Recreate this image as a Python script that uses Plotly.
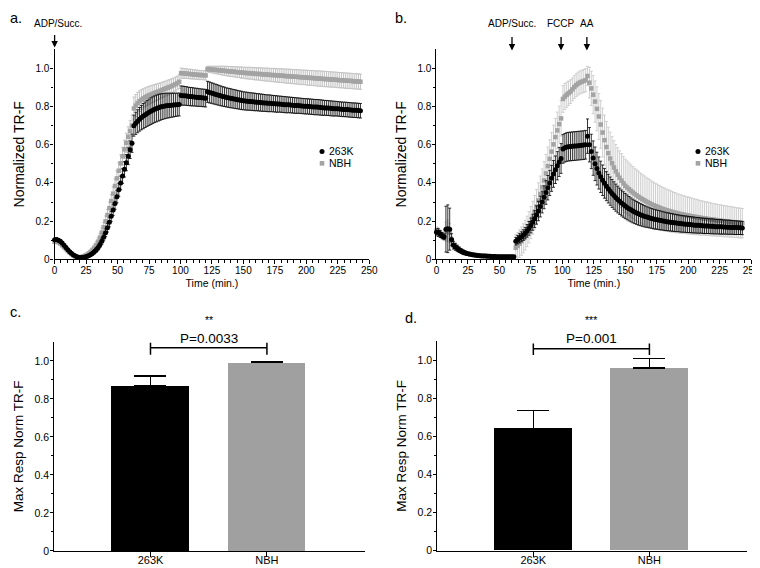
import plotly.graph_objects as go

# ---------------- data ----------------
TIME_MIN = [
    0, 1.5, 3, 4.5, 6, 7.5, 9, 10.5, 12, 13.5,
    15, 16.5, 18, 19.5, 21, 22.5, 24, 25.5, 27, 28.5,
    30, 31.5, 33, 34.5, 36, 37.5, 39, 40.5, 42, 43.5,
    45, 46.5, 48, 49.5, 51, 52.5, 54, 55.5, 57, 58.5,
    60, 61.5, 63, 64.5, 66, 67.5, 69, 70.5, 72, 73.5,
    75, 76.5, 78, 79.5, 81, 82.5, 84, 85.5, 87, 88.5,
    90, 91.5, 93, 94.5, 96, 97.5, 99, 100.5, 102, 103.5,
    105, 106.5, 108, 109.5, 111, 112.5, 114, 115.5, 117, 118.5,
    120, 121.5, 123, 124.5, 126, 127.5, 129, 130.5, 132, 133.5,
    135, 136.5, 138, 139.5, 141, 142.5, 144, 145.5, 147, 148.5,
    150, 151.5, 153, 154.5, 156, 157.5, 159, 160.5, 162, 163.5,
    165, 166.5, 168, 169.5, 171, 172.5, 174, 175.5, 177, 178.5,
    180, 181.5, 183, 184.5, 186, 187.5, 189, 190.5, 192, 193.5,
    195, 196.5, 198, 199.5, 201, 202.5, 204, 205.5, 207, 208.5,
    210, 211.5, 213, 214.5, 216, 217.5, 219, 220.5, 222, 223.5,
    225, 226.5, 228, 229.5, 231, 232.5, 234, 235.5, 237, 238.5,
    240, 241.5, 243,
]

# panel a
A_263K_MEAN = [
    0.102, 0.104, 0.100, 0.094, 0.085, 0.074, 0.062, 0.050, 0.040, 0.031,
    0.023, 0.017, 0.012, 0.010, 0.009, 0.010, 0.012, 0.015, 0.019, 0.024,
    0.031, 0.039, 0.049, 0.061, 0.076, 0.094, 0.115, 0.139, 0.165, 0.194,
    0.225, 0.258, 0.292, 0.328, 0.364, 0.400, 0.436, 0.471, 0.506, 0.540, 0.574, 0.608,
    0.700, 0.712, 0.723, 0.733, 0.742, 0.750, 0.757, 0.764, 0.770, 0.776,
    0.781, 0.786, 0.790, 0.794, 0.797, 0.800, 0.802, 0.804, 0.805, 0.806,
    0.807, 0.808, 0.809, 0.810, 0.811,
    0.858, 0.857, 0.856, 0.855, 0.853, 0.852, 0.851, 0.850, 0.849, 0.848, 0.847, 0.846, 0.845, 0.844,
    0.877, 0.874, 0.871, 0.868, 0.865, 0.862, 0.859, 0.856, 0.853, 0.851,
    0.848, 0.846, 0.844, 0.842, 0.840, 0.838, 0.836, 0.834, 0.832, 0.830,
    0.829, 0.828, 0.827, 0.826, 0.825, 0.824, 0.823, 0.822, 0.821, 0.820,
    0.819, 0.818, 0.817, 0.817, 0.816, 0.815, 0.814, 0.813, 0.813, 0.812,
    0.811, 0.810, 0.809, 0.809, 0.808, 0.807, 0.806, 0.805, 0.805, 0.804,
    0.803, 0.802, 0.801, 0.801, 0.800, 0.799, 0.798, 0.797, 0.797, 0.796,
    0.795, 0.794, 0.793, 0.793, 0.792, 0.791, 0.790, 0.789, 0.789, 0.788,
    0.787, 0.786, 0.785, 0.785, 0.784, 0.783, 0.782, 0.781, 0.781, 0.780, 0.779, 0.778,
]
A_263K_ERR = [
    0.008, 0.008, 0.008, 0.008, 0.007, 0.007, 0.007, 0.006, 0.006, 0.006,
    0.006, 0.005, 0.005, 0.005, 0.005, 0.006, 0.006, 0.007, 0.008, 0.009,
    0.010, 0.011, 0.012, 0.013, 0.014, 0.016, 0.018, 0.020, 0.022, 0.024,
    0.026, 0.028, 0.030, 0.032, 0.034, 0.036, 0.038, 0.040, 0.042, 0.044, 0.046, 0.048,
    0.055, 0.058, 0.060, 0.062, 0.064, 0.066, 0.067, 0.068, 0.069, 0.070,
    0.070, 0.070, 0.070, 0.070, 0.069, 0.068, 0.067, 0.066, 0.065, 0.064,
    0.063, 0.062, 0.061, 0.060, 0.060,
    0.050, 0.050, 0.049, 0.049, 0.048, 0.048, 0.048, 0.047, 0.047, 0.047, 0.046, 0.046, 0.046, 0.046,
    0.055, 0.055, 0.054, 0.054, 0.053, 0.053, 0.052, 0.052, 0.051, 0.051,
    0.050, 0.050, 0.050, 0.049, 0.049, 0.049, 0.048, 0.048, 0.048, 0.047,
    0.047, 0.047, 0.046, 0.046, 0.046, 0.046, 0.045, 0.045, 0.045, 0.045,
    0.044, 0.044, 0.044, 0.044, 0.043, 0.043, 0.043, 0.043, 0.042, 0.042,
    0.042, 0.042, 0.042, 0.041, 0.041, 0.041, 0.041, 0.041, 0.040, 0.040,
    0.040, 0.040, 0.040, 0.040, 0.040, 0.040, 0.040, 0.040, 0.040, 0.040,
    0.040, 0.040, 0.039, 0.039, 0.039, 0.039, 0.039, 0.039, 0.038, 0.038,
    0.038, 0.038, 0.038, 0.038, 0.038, 0.038, 0.038, 0.038, 0.038, 0.038, 0.038, 0.038,
]
A_NBH_MEAN = [
    0.092, 0.095, 0.090, 0.083, 0.074, 0.064, 0.054, 0.044, 0.035, 0.027,
    0.020, 0.015, 0.012, 0.011, 0.012, 0.014, 0.018, 0.023, 0.030, 0.038,
    0.048, 0.060, 0.074, 0.092, 0.114, 0.140, 0.168, 0.199, 0.232, 0.268,
    0.305, 0.344, 0.384, 0.424, 0.464, 0.503, 0.540, 0.576, 0.610, 0.642, 0.672, 0.700,
    0.790, 0.805, 0.818, 0.828, 0.836, 0.843, 0.849, 0.854, 0.859, 0.863,
    0.867, 0.871, 0.875, 0.879, 0.883, 0.887, 0.891, 0.895, 0.899, 0.903,
    0.907, 0.912, 0.917, 0.923, 0.930,
    0.975, 0.974, 0.973, 0.972, 0.971, 0.970, 0.969, 0.968, 0.967, 0.966, 0.965, 0.965, 0.964, 0.963,
    0.996, 0.995, 0.994, 0.993, 0.992, 0.991, 0.990, 0.989, 0.988, 0.987,
    0.986, 0.985, 0.984, 0.983, 0.982, 0.981, 0.980, 0.979, 0.978, 0.977,
    0.976, 0.975, 0.975, 0.974, 0.973, 0.972, 0.971, 0.971, 0.970, 0.969,
    0.968, 0.968, 0.967, 0.966, 0.965, 0.965, 0.964, 0.963, 0.962, 0.962,
    0.961, 0.960, 0.959, 0.959, 0.958, 0.957, 0.956, 0.956, 0.955, 0.954,
    0.953, 0.953, 0.952, 0.951, 0.950, 0.950, 0.949, 0.948, 0.947, 0.947,
    0.946, 0.945, 0.944, 0.944, 0.943, 0.942, 0.941, 0.941, 0.940, 0.939,
    0.938, 0.938, 0.937, 0.936, 0.935, 0.935, 0.934, 0.933, 0.932, 0.932, 0.931, 0.930,
]
A_NBH_ERR = [
    0.010, 0.010, 0.010, 0.009, 0.009, 0.009, 0.008, 0.008, 0.008, 0.008,
    0.007, 0.007, 0.007, 0.007, 0.008, 0.008, 0.009, 0.010, 0.011, 0.012,
    0.014, 0.016, 0.018, 0.020, 0.022, 0.024, 0.026, 0.028, 0.030, 0.032,
    0.034, 0.036, 0.038, 0.040, 0.042, 0.044, 0.046, 0.048, 0.050, 0.052, 0.054, 0.056,
    0.060, 0.058, 0.056, 0.054, 0.052, 0.050, 0.049, 0.048, 0.047, 0.046,
    0.045, 0.044, 0.043, 0.042, 0.041, 0.040, 0.040, 0.039, 0.039, 0.038,
    0.038, 0.037, 0.037, 0.036, 0.036,
    0.026, 0.026, 0.025, 0.025, 0.025, 0.025, 0.025, 0.024, 0.024, 0.024, 0.024, 0.024, 0.024, 0.024,
    0.015, 0.016, 0.017, 0.018, 0.019, 0.020, 0.021, 0.022, 0.023, 0.024,
    0.025, 0.025, 0.026, 0.026, 0.027, 0.027, 0.028, 0.028, 0.029, 0.029,
    0.030, 0.030, 0.031, 0.031, 0.031, 0.032, 0.032, 0.032, 0.033, 0.033,
    0.033, 0.034, 0.034, 0.034, 0.035, 0.035, 0.035, 0.035, 0.036, 0.036,
    0.036, 0.036, 0.037, 0.037, 0.037, 0.037, 0.037, 0.038, 0.038, 0.038,
    0.038, 0.038, 0.038, 0.039, 0.039, 0.039, 0.039, 0.039, 0.039, 0.040,
    0.040, 0.040, 0.040, 0.040, 0.040, 0.040, 0.040, 0.040, 0.040, 0.040,
    0.040, 0.040, 0.040, 0.040, 0.040, 0.040, 0.040, 0.040, 0.040, 0.040, 0.040, 0.040,
]

# panel b
B_263K_MEAN = [
    0.142, 0.140, 0.132, 0.124, 0.118, 0.158, 0.160, 0.158, 0.104, 0.074,
    0.066, 0.058, 0.050, 0.044, 0.038, 0.034, 0.031, 0.028, 0.026, 0.024,
    0.022, 0.021, 0.020, 0.019, 0.018, 0.017, 0.017, 0.016, 0.016, 0.015,
    0.015, 0.015, 0.014, 0.014, 0.014, 0.014, 0.013, 0.013, 0.013, 0.013, 0.013, 0.013,
    0.095, 0.103, 0.110, 0.118, 0.127, 0.137, 0.149, 0.162, 0.177, 0.194,
    0.212, 0.232, 0.253, 0.276, 0.300, 0.325, 0.350, 0.375, 0.400, 0.424,
    0.447, 0.469, 0.490, 0.510, 0.528,
    0.578, 0.584, 0.588, 0.590, 0.591, 0.592, 0.593, 0.594, 0.595, 0.596, 0.597, 0.598, 0.600, 0.645,
    0.600, 0.565, 0.530, 0.500, 0.475, 0.452, 0.432, 0.414, 0.398, 0.383,
    0.370, 0.357, 0.345, 0.334, 0.323, 0.313, 0.304, 0.295, 0.287, 0.279,
    0.272, 0.265, 0.259, 0.253, 0.248, 0.243, 0.238, 0.234, 0.230, 0.226,
    0.223, 0.220, 0.217, 0.214, 0.211, 0.209, 0.207, 0.205, 0.203, 0.201,
    0.199, 0.197, 0.196, 0.194, 0.193, 0.191, 0.190, 0.189, 0.187, 0.186,
    0.185, 0.184, 0.183, 0.182, 0.181, 0.180, 0.179, 0.178, 0.178, 0.177,
    0.176, 0.175, 0.175, 0.174, 0.173, 0.173, 0.172, 0.171, 0.171, 0.170,
    0.170, 0.169, 0.169, 0.168, 0.168, 0.167, 0.167, 0.166, 0.166, 0.165, 0.165, 0.164,
]
B_263K_ERR = [
    0.020, 0.020, 0.018, 0.016, 0.015, 0.120, 0.125, 0.110, 0.030, 0.020,
    0.018, 0.016, 0.014, 0.012, 0.011, 0.010, 0.009, 0.008, 0.007, 0.006,
    0.006, 0.005, 0.005, 0.005, 0.005, 0.004, 0.004, 0.004, 0.004, 0.004,
    0.004, 0.004, 0.004, 0.004, 0.004, 0.004, 0.004, 0.004, 0.004, 0.004, 0.004, 0.004,
    0.020, 0.022, 0.024, 0.026, 0.028, 0.030, 0.033, 0.036, 0.039, 0.042,
    0.045, 0.048, 0.051, 0.054, 0.057, 0.060, 0.062, 0.064, 0.066, 0.068,
    0.070, 0.072, 0.074, 0.076, 0.078,
    0.075, 0.075, 0.075, 0.075, 0.075, 0.075, 0.075, 0.075, 0.075, 0.075, 0.075, 0.075, 0.075, 0.090,
    0.090, 0.090, 0.090, 0.088, 0.086, 0.084, 0.082, 0.080, 0.078, 0.076,
    0.075, 0.074, 0.073, 0.072, 0.071, 0.070, 0.069, 0.068, 0.067, 0.066,
    0.065, 0.064, 0.063, 0.062, 0.061, 0.060, 0.059, 0.058, 0.057, 0.056,
    0.055, 0.054, 0.053, 0.052, 0.052, 0.051, 0.050, 0.050, 0.049, 0.048,
    0.048, 0.047, 0.047, 0.046, 0.046, 0.045, 0.045, 0.044, 0.044, 0.044,
    0.043, 0.043, 0.043, 0.042, 0.042, 0.042, 0.041, 0.041, 0.041, 0.040,
    0.040, 0.040, 0.040, 0.039, 0.039, 0.039, 0.039, 0.038, 0.038, 0.038,
    0.038, 0.037, 0.037, 0.037, 0.037, 0.036, 0.036, 0.036, 0.036, 0.035, 0.035, 0.035,
]
B_NBH_MEAN = [
    0.150, 0.145, 0.135, 0.125, 0.115, 0.145, 0.150, 0.140, 0.095, 0.075,
    0.065, 0.057, 0.050, 0.044, 0.039, 0.035, 0.032, 0.029, 0.027, 0.025,
    0.023, 0.022, 0.021, 0.020, 0.019, 0.018, 0.018, 0.017, 0.017, 0.016,
    0.016, 0.015, 0.015, 0.015, 0.014, 0.014, 0.014, 0.014, 0.013, 0.013, 0.013, 0.013,
    0.060, 0.070, 0.082, 0.095, 0.110, 0.127, 0.146, 0.168, 0.192, 0.218,
    0.246, 0.276, 0.308, 0.342, 0.377, 0.413, 0.450, 0.488, 0.526, 0.564,
    0.602, 0.640, 0.675, 0.708, 0.738,
    0.840, 0.852, 0.862, 0.870, 0.878, 0.890, 0.902, 0.912, 0.920, 0.926, 0.930, 0.934, 0.938, 0.960,
    0.925, 0.895, 0.862, 0.826, 0.788, 0.748, 0.706, 0.664, 0.624, 0.588,
    0.556, 0.528, 0.503, 0.481, 0.461, 0.443, 0.427, 0.412, 0.398, 0.385,
    0.376, 0.367, 0.358, 0.350, 0.342, 0.335, 0.328, 0.321, 0.315, 0.309,
    0.303, 0.298, 0.293, 0.288, 0.283, 0.279, 0.275, 0.271, 0.267, 0.263,
    0.260, 0.257, 0.254, 0.251, 0.248, 0.245, 0.243, 0.240, 0.238, 0.236,
    0.234, 0.232, 0.230, 0.228, 0.226, 0.224, 0.222, 0.221, 0.219, 0.217,
    0.216, 0.214, 0.213, 0.211, 0.210, 0.208, 0.207, 0.206, 0.204, 0.203,
    0.202, 0.200, 0.199, 0.198, 0.197, 0.196, 0.195, 0.193, 0.192, 0.191, 0.190, 0.189,
]
B_NBH_ERR = [
    0.020, 0.020, 0.018, 0.017, 0.016, 0.050, 0.055, 0.050, 0.025, 0.020,
    0.018, 0.016, 0.014, 0.013, 0.012, 0.011, 0.010, 0.009, 0.008, 0.008,
    0.007, 0.007, 0.006, 0.006, 0.006, 0.005, 0.005, 0.005, 0.005, 0.005,
    0.005, 0.005, 0.005, 0.005, 0.005, 0.005, 0.005, 0.005, 0.005, 0.005, 0.005, 0.005,
    0.070, 0.070, 0.072, 0.074, 0.076, 0.078, 0.080, 0.082, 0.084, 0.086,
    0.088, 0.090, 0.092, 0.094, 0.096, 0.098, 0.100, 0.100, 0.100, 0.100,
    0.100, 0.098, 0.096, 0.094, 0.092,
    0.070, 0.068, 0.066, 0.064, 0.062, 0.060, 0.060, 0.060, 0.060, 0.060, 0.060, 0.060, 0.060, 0.050,
    0.080, 0.090, 0.100, 0.108, 0.115, 0.120, 0.125, 0.128, 0.131, 0.134,
    0.136, 0.138, 0.139, 0.140, 0.141, 0.141, 0.141, 0.141, 0.140, 0.140,
    0.139, 0.138, 0.137, 0.136, 0.135, 0.134, 0.133, 0.131, 0.130, 0.128,
    0.127, 0.125, 0.124, 0.122, 0.121, 0.119, 0.118, 0.116, 0.115, 0.113,
    0.112, 0.110, 0.109, 0.108, 0.106, 0.105, 0.104, 0.102, 0.101, 0.100,
    0.099, 0.098, 0.097, 0.096, 0.095, 0.094, 0.093, 0.092, 0.091, 0.090,
    0.089, 0.088, 0.088, 0.087, 0.086, 0.085, 0.085, 0.084, 0.083, 0.083,
    0.082, 0.082, 0.081, 0.081, 0.080, 0.080, 0.079, 0.079, 0.078, 0.078, 0.078, 0.077,
]

for _s in (A_263K_MEAN, A_263K_ERR, A_NBH_MEAN, A_NBH_ERR,
           B_263K_MEAN, B_263K_ERR, B_NBH_MEAN, B_NBH_ERR):
    assert len(_s) == len(TIME_MIN), len(_s)

# panels c / d (bar charts)
GROUPS = ["263K", "NBH"]
C_MEAN = [0.870, 0.992]
C_ERR = [0.052, 0.005]
D_MEAN = [0.641, 0.958]
D_ERR = [0.095, 0.052]
C_P_TEXT, C_STARS = "P=0.0033", "**"
D_P_TEXT, D_STARS = "P=0.001", "***"

# event markers (arrows)
EVENTS_A = [0]
EVENT_LABELS_A = ["ADP/Succ."]
EVENTS_B = [60, 99, 119.5]
EVENT_LABELS_B = ["ADP/Succ.", "FCCP", "AA"]

SERIES_NAMES = ["263K", "NBH"]

X_TICKS = [0, 25, 50, 75, 100, 125, 150, 175, 200, 225, 250]
Y_TICKS = [0, 0.2, 0.4, 0.6, 0.8, 1.0]
Y_TICK_TEXT = ["0", "0.2", "0.4", "0.6", "0.8", "1.0"]
Y_MINOR = [0.1, 0.3, 0.5, 0.7, 0.9]

# ---------------- style ----------------
FONT = "Liberation Sans, Arial, sans-serif"
BLACK = "#000000"
GRAY_MK = "#a3a3a3"
GRAY_ERR_A = "#c4c4c4"
GRAY_ERR_B = "#cfcfcf"
GRAY_BAR = "#a0a0a0"
W, H = 760, 568


def px_x(p):
    return p / W


def px_y(p):
    return 1 - p / H


fig = go.Figure()

# time courses
for (mean_n, err_n, mean_k, err_k, xa, ya, gerr) in [
    (A_NBH_MEAN, A_NBH_ERR, A_263K_MEAN, A_263K_ERR, "x", "y", GRAY_ERR_A),
    (B_NBH_MEAN, B_NBH_ERR, B_263K_MEAN, B_263K_ERR, "x2", "y2", GRAY_ERR_B),
]:
    fig.add_trace(go.Scatter(
        x=TIME_MIN, y=mean_n, mode="markers", name=SERIES_NAMES[1], showlegend=False,
        xaxis=xa, yaxis=ya, cliponaxis=False,
        marker=dict(symbol="square", size=4.5, color=GRAY_MK, line=dict(width=0)),
        error_y=dict(type="data", array=err_n, visible=True, color=gerr,
                     thickness=1, width=1.5),
    ))
    fig.add_trace(go.Scatter(
        x=TIME_MIN, y=mean_k, mode="markers", name=SERIES_NAMES[0], showlegend=False,
        xaxis=xa, yaxis=ya, cliponaxis=False,
        marker=dict(symbol="circle", size=5, color=BLACK, line=dict(width=0)),
        error_y=dict(type="data", array=err_k, visible=True, color=BLACK,
                     thickness=0.8, width=1.5),
    ))

# bar charts
for (means, errs, xa, ya) in [(C_MEAN, C_ERR, "x3", "y3"), (D_MEAN, D_ERR, "x4", "y4")]:
    fig.add_trace(go.Bar(
        x=GROUPS, y=means, xaxis=xa, yaxis=ya, showlegend=False,
        width=0.667, marker=dict(color=[BLACK, GRAY_BAR], line=dict(width=0)),
        error_y=dict(type="data", array=errs, arrayminus=[0, 0], symmetric=False,
                     visible=True, color=BLACK, thickness=1.6, width=16),
    ))

tickfont = dict(family=FONT, size=10, color=BLACK)
axis_common = dict(showline=True, linecolor=BLACK, linewidth=1.3, ticks="outside",
                   ticklen=4, tickwidth=1.2, tickcolor=BLACK, showgrid=False,
                   zeroline=False, tickfont=tickfont)

ts_x = dict(axis_common, range=[0, 250], tickmode="array", tickvals=X_TICKS,
            ticklabelstandoff=-2,
            minor=dict(ticks="outside", ticklen=2.5, tickwidth=1, tickcolor=BLACK,
                       tick0=0, dtick=5, showgrid=False),
            title=dict(text="Time (min.)", font=dict(family=FONT, size=10.5, color=BLACK),
                       standoff=4))
ts_y = dict(axis_common, range=[0, 1.1], tickmode="array", tickvals=Y_TICKS,
            ticktext=Y_TICK_TEXT, ticklen=3, ticklabelstandoff=-1,
            minor=dict(ticks="outside", ticklen=2, tickwidth=1, tickcolor=BLACK,
                       tickmode="array", tickvals=Y_MINOR, showgrid=False),
            title=dict(text="Normalized TR-F", font=dict(family=FONT, size=14, color=BLACK),
                       standoff=7))
bar_x = dict(axis_common, range=[-0.826, 1.845], type="category", ticklen=5,
             ticklabelstandoff=-6,
             tickfont=dict(family=FONT, size=11, color=BLACK))
bar_y = dict(axis_common, range=[0, 1.1], tickmode="array", tickvals=Y_TICKS,
             ticktext=Y_TICK_TEXT, ticklen=3, ticklabelstandoff=-1,
             tickfont=dict(family=FONT, size=10.5, color=BLACK),
             minor=dict(ticks="outside", ticklen=2, tickwidth=1, tickcolor=BLACK,
                        tickmode="array", tickvals=Y_MINOR, showgrid=False),
             title=dict(text="Max Resp Norm TR-F",
                        font=dict(family=FONT, size=13.5, color=BLACK), standoff=7))

fig.update_layout(
    width=W, height=H, paper_bgcolor="white", plot_bgcolor="white",
    margin=dict(l=0, r=0, t=0, b=0), font=dict(family=FONT, color=BLACK),
    showlegend=False,
    xaxis=dict(ts_x, domain=[px_x(44.3), px_x(364)], anchor="y"),
    yaxis=dict(ts_y, domain=[px_y(254), px_y(41.7)], anchor="x"),
    xaxis2=dict(ts_x, domain=[px_x(432.3), px_x(752)], anchor="y2"),
    yaxis2=dict(ts_y, domain=[px_y(254), px_y(41.7)], anchor="x2"),
    xaxis3=dict(bar_x, domain=[px_x(44), px_x(360)], anchor="y3"),
    yaxis3=dict(bar_y, domain=[px_y(548.7), px_y(337.5)], anchor="x3"),
    xaxis4=dict(bar_x, domain=[px_x(433.3), px_x(748.3)], anchor="y4"),
    yaxis4=dict(bar_y, domain=[px_y(548.3), px_y(336.8)], anchor="x4"),
    bargap=0,
)

annotations = []
shapes = []

# panel letters
for txt, xp, yp in [("a.", 5, 10), ("b.", 396, 10), ("c.", 5, 307), ("d.", 406, 313)]:
    annotations.append(dict(text=txt, x=px_x(xp), y=px_y(yp), xref="paper", yref="paper",
                            showarrow=False, xanchor="center", yanchor="middle",
                            font=dict(family=FONT, size=14.5, color=BLACK)))

# legends (marker key + label) for panels a and b
for mk_x in (316, 698):
    for name, yp, sym, col, half in [(SERIES_NAMES[0], 145, "circle", BLACK, 2.5),
                                     (SERIES_NAMES[1], 157, "rect", GRAY_MK, 2.3)]:
        shapes.append(dict(type=sym, xref="paper", yref="paper",
                           xsizemode="pixel", ysizemode="pixel",
                           xanchor=px_x(mk_x), yanchor=px_y(yp),
                           x0=-half, x1=half, y0=-half, y1=half,
                           fillcolor=col, line=dict(width=0)))
        annotations.append(dict(text=name, x=px_x(mk_x + 5), y=px_y(yp), xref="paper",
                                yref="paper", showarrow=False, xanchor="left",
                                yanchor="middle",
                                font=dict(family=FONT, size=10.5, color=BLACK)))

# event arrows and labels
for t, lab in zip(EVENTS_A, EVENT_LABELS_A):
    annotations.append(dict(text="", x=t, xref="x", y=px_y(40), yref="paper",
                            showarrow=True, ax=0, ay=-14, arrowhead=2, arrowsize=1,
                            arrowwidth=1.3, arrowcolor=BLACK, standoff=0))
    annotations.append(dict(text=lab, x=px_x(48), y=px_y(16), xref="paper", yref="paper",
                            showarrow=False, xanchor="center", yanchor="middle",
                            font=dict(family=FONT, size=10, color=BLACK)))
for t, lab in zip(EVENTS_B, EVENT_LABELS_B):
    annotations.append(dict(text="", x=t, xref="x2", y=px_y(43), yref="paper",
                            showarrow=True, ax=0, ay=-15, arrowhead=2, arrowsize=1,
                            arrowwidth=1.3, arrowcolor=BLACK, standoff=0))
    annotations.append(dict(text=lab, x=t, xref="x2", y=px_y(16), yref="paper",
                            showarrow=False, xanchor="center", yanchor="middle",
                            font=dict(family=FONT, size=10, color=BLACK)))

# significance brackets
for (xa, ya, lvl, lo, hi, ptxt, stars, p_px, s_px) in [
    ("x3", "y3", 1.070, 1.033, 1.096, C_P_TEXT, C_STARS, 334.3, 315),
    ("x4", "y4", 1.061, 1.028, 1.088, D_P_TEXT, D_STARS, 334.3, 315),
]:
    shapes.append(dict(type="line", xref=xa, yref=ya, x0=0, x1=1, y0=lvl, y1=lvl,
                       line=dict(color=BLACK, width=1.5)))
    for xc in (0, 1):
        shapes.append(dict(type="line", xref=xa, yref=ya, x0=xc, x1=xc, y0=lo, y1=hi,
                           line=dict(color=BLACK, width=1.5)))
    annotations.append(dict(text=ptxt, x=0.5, y=px_y(p_px), xref=xa, yref="paper",
                            showarrow=False, xanchor="center", yanchor="middle",
                            font=dict(family=FONT, size=13.5, color=BLACK)))
    annotations.append(dict(text=stars, x=0.5, y=px_y(s_px), xref=xa, yref="paper",
                            showarrow=False, xanchor="center", yanchor="middle",
                            font=dict(family=FONT, size=10.5, color=BLACK)))

fig.update_layout(annotations=annotations, shapes=shapes)

fig.write_html("out.html")
